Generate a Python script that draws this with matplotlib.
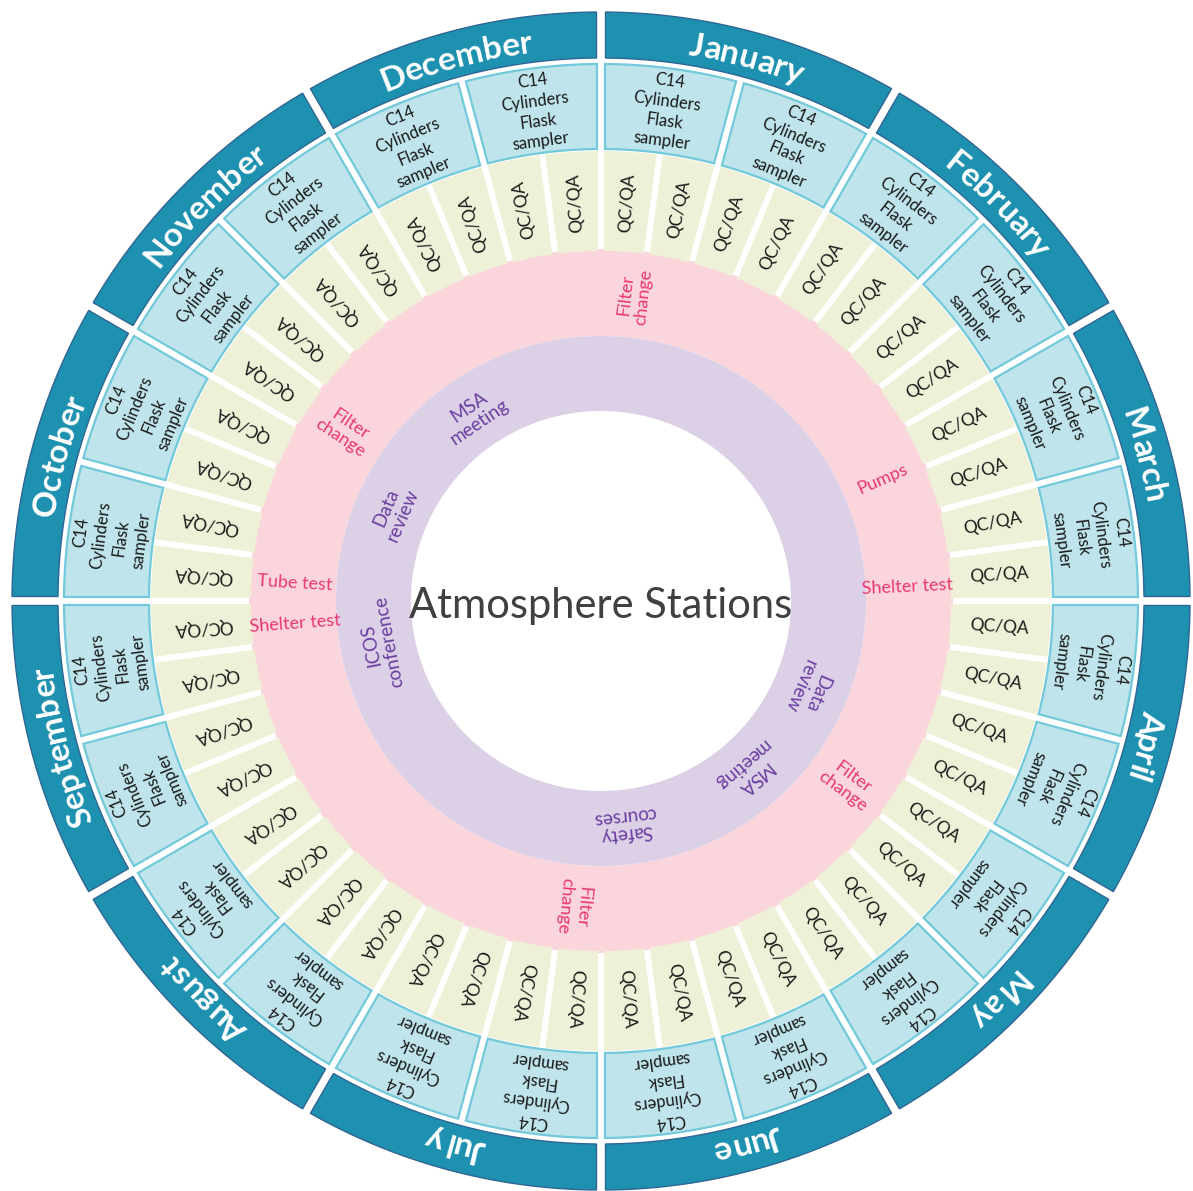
import numpy as np
import matplotlib.pyplot as plt
from matplotlib.patches import Polygon, Wedge

plt.rcParams['font.family'] = ['Lato', 'DejaVu Sans']

months = ['January', 'February', 'March', 'April', 'May', 'June',
          'July', 'August', 'September', 'October', 'November', 'December']
sampling_label = 'C14\nCylinders\nFlask\nsampler'
samplings_per_month = 2
check_label = 'QC/QA'
checks_per_month = 4

# maintenance tasks (pink ring), time given in months from 1 January
maint_labels = ['Filter\nchange', 'Pumps', 'Shelter test', 'Filter\nchange',
                'Filter\nchange', 'Shelter test', 'Tube test', 'Filter\nchange']
maint_time = [0.21, 2.22, 2.91, 4.22, 6.17, 8.86, 9.11, 10.12]

# meetings / reviews (lavender ring)
event_labels = ['Data\nreview', 'MSA\nmeeting', 'Safety\ncourses',
                'ICOS\nconference', 'Data\nreview', 'MSA\nmeeting']
event_time = [3.77, 4.64, 5.79, 8.64, 9.78, 10.86]

title = 'Atmosphere Stations'

W, H = 1193, 1191
cx, cy = 601, 601
fig = plt.figure(figsize=(W / 100, H / 100), dpi=100)
ax = fig.add_axes([0, 0, 1, 1])
ax.set_xlim(-cx, W - cx)
ax.set_ylim(-(H - cy), cy)
ax.axis('off')
renderer = fig.canvas.get_renderer()


def cell(t1, t2, r1, r2, gap, n=60):
    d2 = np.degrees(np.arcsin(gap / 2 / r2))
    d1 = np.degrees(np.arcsin(gap / 2 / r1))
    outer = np.radians(np.linspace(t1 + d2, t2 - d2, n))
    inner = np.radians(np.linspace(t2 - d1, t1 + d1, n))
    xs = np.r_[r2 * np.sin(outer), r1 * np.sin(inner)]
    ys = np.r_[r2 * np.cos(outer), r1 * np.cos(inner)]
    return np.column_stack([xs, ys])


def polar(r, t):
    t = np.radians(t)
    return r * np.sin(t), r * np.cos(t)


def text_width(s, **kw):
    if not s:
        return 0.0
    t = ax.text(0, 0, s, **kw)
    w = t.get_window_extent(renderer).width
    t.remove()
    return w


def curved_text(s, tc, r, **kw):
    total = text_width(s, **kw)
    for i, ch in enumerate(s):
        left = text_width(s[:i], **kw)
        right = text_width(s[:i + 1], **kw)
        off = (left + right) / 2 - total / 2
        t = tc + np.degrees(off / r)
        x, y = polar(r, t)
        ax.text(x, y, ch, rotation=-t, ha='center', va='baseline',
                rotation_mode='anchor', **kw)


# inner rings
ax.add_patch(Wedge((0, 0), 352, 0, 360, width=87, facecolor='#fbd5dc', edgecolor='none'))
ax.add_patch(Wedge((0, 0), 265, 0, 360, width=75, facecolor='#dcd0e6', edgecolor='none'))

# month ring
for i, m in enumerate(months):
    t1, t2 = i * 30, (i + 1) * 30
    ax.add_patch(Polygon(cell(t1, t2, 543, 589, 9), closed=True,
                         facecolor='#1f91b0', edgecolor='#2e6593', lw=1.0))
    curved_text(m, t1 + 15, 553, fontsize=24, fontweight='bold', color='white')

# sampling ring
ns = len(months) * samplings_per_month
step = 360 / ns
for k in range(ns):
    t1 = k * step
    ax.add_patch(Polygon(cell(t1, t1 + step, 452, 537, 8), closed=True,
                         facecolor='#bfe4eb', edgecolor='#72c9d9', lw=1.6))
    x, y = polar(494, t1 + step / 2)
    ax.text(x, y, sampling_label, rotation=-(t1 + step / 2), ha='center',
            va='center', multialignment='center', fontsize=12,
            linespacing=1.32, color='#1a1a1a', rotation_mode='anchor')

# QC/QA ring
nc = len(months) * checks_per_month
step = 360 / nc
for k in range(nc):
    t1 = k * step
    ax.add_patch(Polygon(cell(t1, t1 + step, 350, 450, 6), closed=True,
                         facecolor='#eef0d7', edgecolor='none'))
    tc = t1 + step / 2
    x, y = polar(399, tc)
    ax.text(x, y, check_label, rotation=90 - tc, ha='center', va='center',
            fontsize=12.5, color='#1a1a1a', rotation_mode='anchor')

# maintenance labels
for lab, tm in zip(maint_labels, maint_time):
    t = tm * 30
    rot = 90 - t
    if 190 < t < 350:
        rot += 180
    x, y = polar(307, t)
    ax.text(x, y, lab, rotation=rot, ha='center', va='center',
            multialignment='center', fontsize=13, color='#e8396f',
            linespacing=1.1, rotation_mode='anchor')

# event labels
for lab, tm in zip(event_labels, event_time):
    t = tm * 30
    x, y = polar(225, t)
    ax.text(x, y, lab, rotation=-t, ha='center', va='center',
            multialignment='center', fontsize=13.5, color='#6a3ea1',
            linespacing=1.1, rotation_mode='anchor')

ax.text(0, -17, title, ha='center', va='baseline', fontsize=30, color='#404040')

fig.savefig('out.png', dpi=100)
